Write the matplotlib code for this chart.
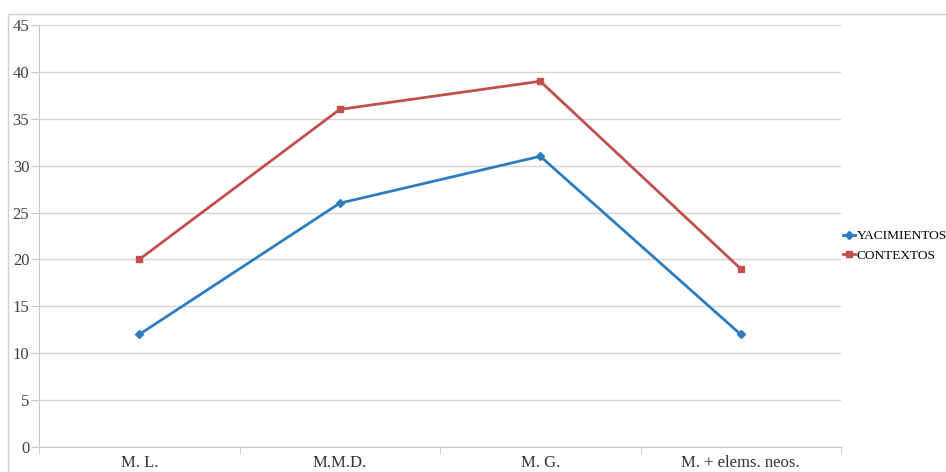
import matplotlib.pyplot as plt
from matplotlib.patches import Rectangle

categories = ["M. L.", "M.M.D.", "M. G.", "M. + elems. neos."]
yacimientos = [12, 26, 31, 12]
contextos = [20, 36, 39, 19]
y_ticks = [0, 5, 10, 15, 20, 25, 30, 35, 40, 45]

plt.rcParams['font.family'] = ['Liberation Serif', 'DejaVu Serif']

W, H = 946, 472
fig = plt.figure(figsize=(W / 100, H / 100), dpi=100)

# outer chart border (runs off the right and bottom edges)
fig.patches.append(Rectangle((8 / W, -0.05), 1.0, 1 - 14 / H + 0.05,
                             transform=fig.transFigure, fill=False,
                             edgecolor="#d0d0d0", linewidth=1.0))

ax = fig.add_axes([39 / W, 1 - 447 / H, (841 - 39) / W, (447 - 25) / H])

x = list(range(len(categories)))
ax.plot(x, yacimientos, color="#2e7dbf", linewidth=2, marker="D",
        markersize=4, label="YACIMIENTOS")
ax.plot(x, contextos, color="#c0504d", linewidth=2, marker="s",
        markersize=5, label="CONTEXTOS")

ax.set_xlim(-0.5, len(categories) - 0.5)
ax.set_ylim(0, 45)
ax.set_yticks(y_ticks)
ax.yaxis.grid(True, color="#d4d4d4", linewidth=1)
ax.set_axisbelow(True)

ax.set_xticks(x)
ax.set_xticklabels(categories, fontsize=12, color="#333333")
ax.set_xticks([i + 0.5 for i in range(-1, len(categories))], minor=True)
ax.tick_params(axis="x", which="major", length=0, pad=6)
ax.tick_params(axis="x", which="minor", length=5, color="#c8c8c8", direction="out")
ax.tick_params(axis="y", length=6, color="#c8c8c8", labelsize=12,
               labelcolor="#404040", pad=1)

for side in ["top", "right"]:
    ax.spines[side].set_visible(False)
for side in ["left", "bottom"]:
    ax.spines[side].set_color("#c8c8c8")

fig.legend(loc="center left", bbox_to_anchor=(843 / W, 1 - 246 / H),
           frameon=False, fontsize=9.6, handlelength=0.9, handletextpad=0.1,
           labelspacing=0.55, borderaxespad=0, borderpad=0)

fig.savefig("out.png", dpi=100)
